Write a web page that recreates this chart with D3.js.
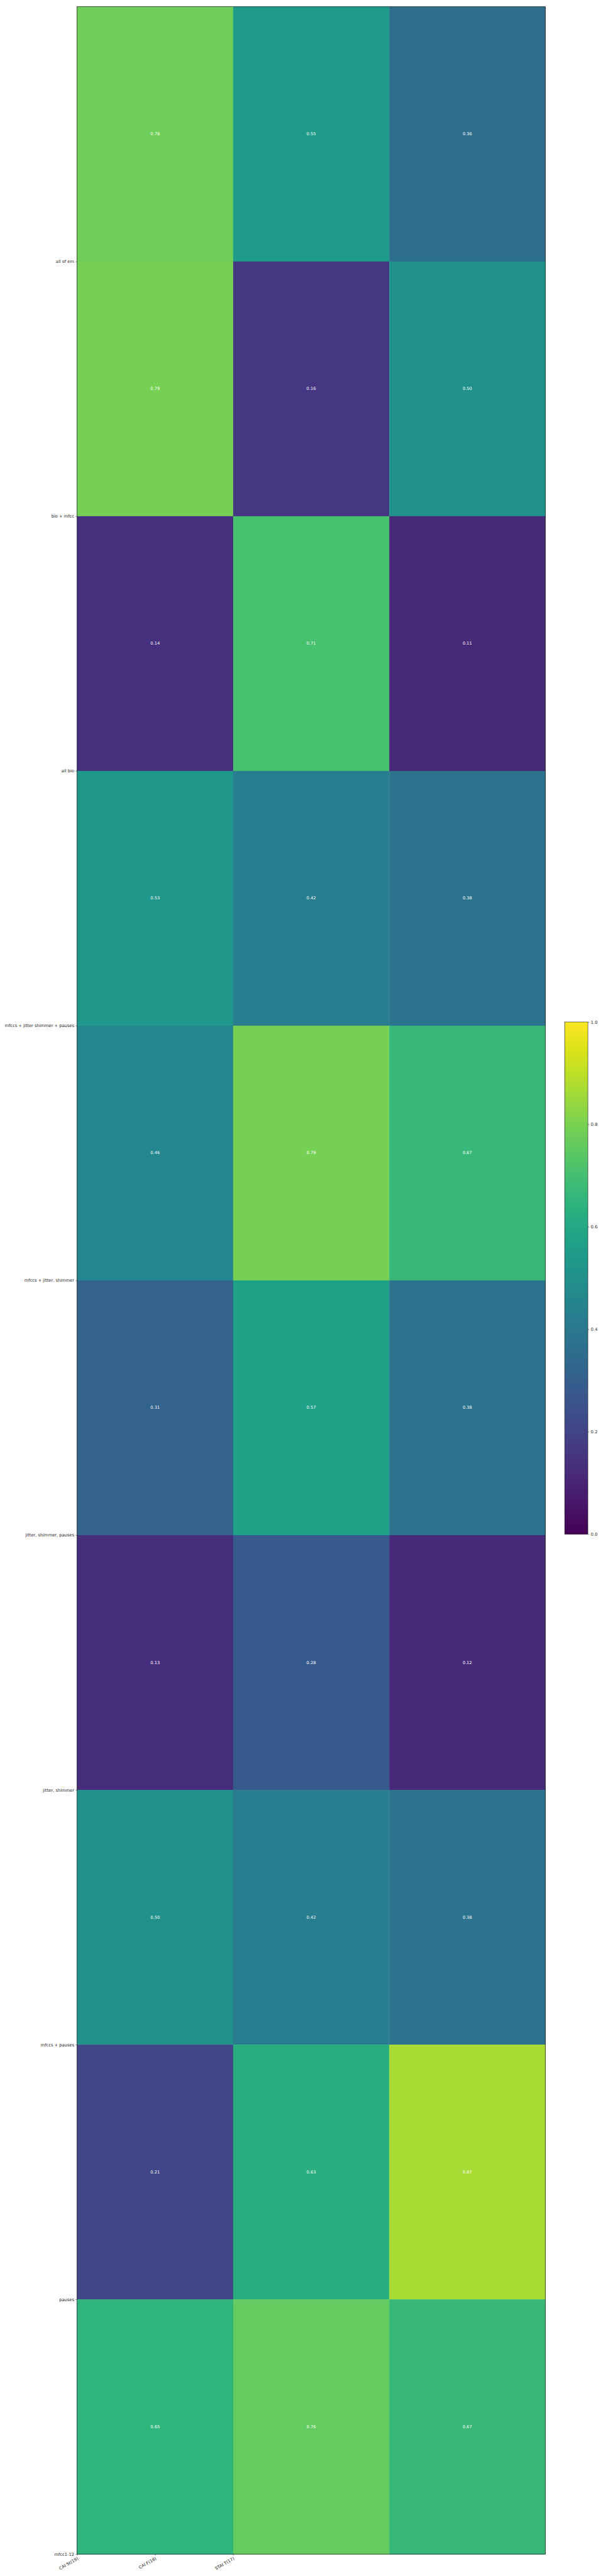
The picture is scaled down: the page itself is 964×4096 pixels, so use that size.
<!DOCTYPE html>
<html>
<head>
<meta charset="utf-8">
<script src="https://cdn.jsdelivr.net/npm/d3@7"></script>
<style>
html,body{margin:0;padding:0;background:#fff;}
svg{display:block;}
text{font-family:"DejaVu Sans",sans-serif;}
</style>
</head>
<body>
<svg id="chart" width="964" height="4096" viewBox="0 0 1440 6120"></svg>
<script>
const rowLabels = ["all of em","bio + mfcc","all bio","mfccs + jitter shimmer + pauses","mfccs + jitter, shimmer","jitter, shimmer, pauses","jitter, shimmer","mfccs + pauses","pauses","mfcc1-12"];
const colLabels = ["CAI St(19)","CAI F(18)","STAI T(17)"];
const values = [
  [0.78,0.55,0.36],
  [0.79,0.16,0.50],
  [0.14,0.71,0.11],
  [0.53,0.42,0.38],
  [0.46,0.79,0.67],
  [0.31,0.57,0.38],
  [0.13,0.28,0.12],
  [0.50,0.42,0.38],
  [0.21,0.63,0.87],
  [0.65,0.76,0.67]
];
const cbTicks = [0.0,0.2,0.4,0.6,0.8,1.0];

const svg = d3.select("#chart");
const L=183, R=1296, T=16, B=6068;
const color = d3.scaleSequential(d3.interpolateViridis).domain([0,1]);
const xb = d3.scaleBand().domain(d3.range(colLabels.length)).range([L,R]);
const yb = d3.scaleBand().domain(d3.range(rowLabels.length)).range([T,B]);

const cells=[];
values.forEach((r,i)=>r.forEach((v,j)=>cells.push({i,j,v})));
svg.append("g").selectAll("rect").data(cells).join("rect")
  .attr("x",d=>xb(d.j)).attr("y",d=>yb(d.i))
  .attr("width",xb.bandwidth()+0.5).attr("height",yb.bandwidth()+0.5)
  .attr("fill",d=>color(d.v));
svg.append("g").selectAll("text").data(cells).join("text")
  .attr("x",d=>xb(d.j)+xb.bandwidth()/2).attr("y",d=>yb(d.i)+yb.bandwidth()/2)
  .attr("text-anchor","middle").attr("dominant-baseline","central")
  .attr("font-size",10).attr("fill","#fff")
  .text(d=>d.v.toFixed(2));

svg.append("rect").attr("x",L).attr("y",T).attr("width",R-L).attr("height",B-T)
  .attr("fill","none").attr("stroke","#000").attr("stroke-width",1);

// axes
const yt = d3.scaleLinear().domain([0,rowLabels.length]).range([T,B]);
const yAxis = svg.append("g").attr("transform",`translate(${L},0)`)
  .call(d3.axisLeft(yt).tickValues(d3.range(1,rowLabels.length+1)).tickFormat(i=>rowLabels[i-1]).tickSize(3.5).tickPadding(3.5));
yAxis.select(".domain").remove();
yAxis.selectAll("text").attr("font-size",10).attr("fill","#222").attr("font-family","DejaVu Sans");
yAxis.selectAll("line").attr("stroke","#222").attr("stroke-width",0.8);

const xt = d3.scaleLinear().domain([0,6]).range([L,R]);
const xAxis = svg.append("g").attr("transform",`translate(0,${B})`)
  .call(d3.axisBottom(xt).tickValues(d3.range(colLabels.length)).tickFormat(i=>colLabels[i]).tickSize(3.5).tickPadding(3.5));
xAxis.select(".domain").remove();
xAxis.selectAll("line").attr("stroke","#222").attr("stroke-width",0.8);
xAxis.selectAll("text").attr("font-size",10).attr("fill","#222").attr("font-family","DejaVu Sans")
  .attr("text-anchor","end").attr("dy",null).attr("y",null)
  .attr("transform","translate(2,10) rotate(-30)").attr("dominant-baseline","middle");

// colorbar
const cbL=1342, cbR=1397, cbT=2428, cbB=3645;
const defs = svg.append("defs");
const grad = defs.append("linearGradient").attr("id","vir").attr("x1",0).attr("y1",1).attr("x2",0).attr("y2",0);
d3.range(0,1.0001,0.05).forEach(t=>grad.append("stop").attr("offset",t).attr("stop-color",color(t)));
svg.append("rect").attr("x",cbL).attr("y",cbT).attr("width",cbR-cbL).attr("height",cbB-cbT)
  .attr("fill","url(#vir)").attr("stroke","#000").attr("stroke-width",0.8);
const cy = d3.scaleLinear().domain([0,1]).range([cbB,cbT]);
const cAxis = svg.append("g").attr("transform",`translate(${cbR},0)`)
  .call(d3.axisRight(cy).tickValues(cbTicks).tickFormat(d3.format(".1f")).tickSize(3.5).tickPadding(3.5));
cAxis.select(".domain").remove();
cAxis.selectAll("line").attr("stroke","#222").attr("stroke-width",0.8);
cAxis.selectAll("text").attr("font-size",10).attr("fill","#222").attr("font-family","DejaVu Sans");
</script>
</body>
</html>
